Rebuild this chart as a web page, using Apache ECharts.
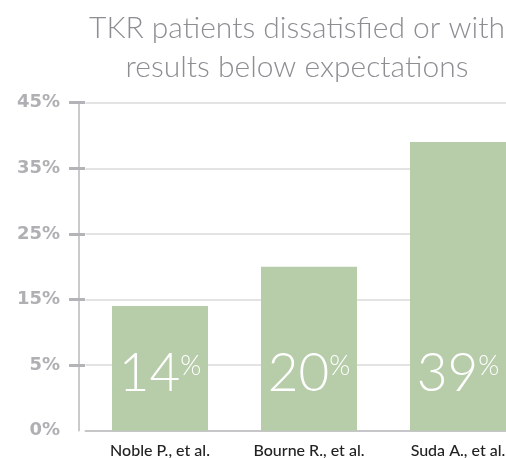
<!DOCTYPE html>
<html>
<head>
<meta charset="utf-8">
<script src="https://cdn.jsdelivr.net/npm/echarts@6/dist/echarts.min.js"></script>
<style>
  html, body { margin: 0; padding: 0; background: #fff; }
  #chart { width: 506px; height: 458px; }
</style>
</head>
<body>
<div id="chart"></div>
<script>
// data
var studies = ["Noble P., et al.", "Bourne R., et al.", "Suda A., et al."];
var dissatisfied = [14, 20, 39];
var tickLabels = ["0%", "5%", "15%", "25%", "35%", "45%"];
// the drawn axis puts its "0%" baseline one half-step below 5%
var baseShift = 5;
var tickAt = [10, 20, 30, 40, 50];

var chart = echarts.init(document.getElementById("chart"));
chart.setOption({
  animation: false,
  title: {
    text: "TKR patients dissatisfied or with\nresults below expectations",
    left: 292,
    top: 4,
    textAlign: "center",
    textStyle: {
      color: "#8d8e92",
      fontFamily: "Lato",
      fontWeight: 300,
      fontSize: 30,
      lineHeight: 39
    }
  },
  grid: {
    left: 85.5,
    right: -26.5,
    top: 102.7,
    bottom: 27.3,
    outerBoundsMode: "none"
  },
  xAxis: {
    type: "category",
    data: studies,
    axisLine: { lineStyle: { color: "#c6c6c8", width: 2 } },
    axisTick: { show: false },
    axisLabel: {
      interval: 0,
      color: "#222",
      fontFamily: "Lato",
      fontSize: 16,
      fontWeight: 500,
      margin: 12
    }
  },
  yAxis: [{
    type: "value",
    min: 0,
    max: 50,
    interval: 10,
    offset: 6.5,
    axisLine: { show: true, lineStyle: { color: "#b9b9bd", width: 1.5 } },
    axisTick: {
      show: true,
      length: 10,
      customValues: tickAt,
      lineStyle: { color: "#b4b4b8", width: 3 }
    },
    splitLine: { lineStyle: { color: "#dadada", width: 1.5 } },
    axisLabel: {
      color: "#b0b0b4",
      fontFamily: "DejaVu Sans",
      fontWeight: "bold",
      fontSize: 18,
      margin: 19,
      formatter: function (v) {
        return tickLabels[v / 10];
      }
    }
  }, {
    // twin axis only for the part of each tick dash right of the axis line
    type: "value",
    position: "left",
    min: 0,
    max: 50,
    interval: 10,
    offset: 6.5,
    axisLine: { show: false },
    axisTick: {
      show: true,
      inside: true,
      length: 6,
      customValues: tickAt,
      lineStyle: { color: "#b4b4b8", width: 3 }
    },
    splitLine: { show: false },
    axisLabel: { show: false }
  }],
  series: [{
    type: "bar",
    barWidth: 96,
    data: dissatisfied.map(function (v) { return v + baseShift; }),
    itemStyle: { color: "#b7cdaa" },
    label: {
      show: true,
      position: "insideBottom",
      distance: 31,
      formatter: function (p) {
        return "{n|" + dissatisfied[p.dataIndex] + "}{p|%}";
      },
      rich: {
        n: {
          color: "#fff",
          fontFamily: "Lato",
          fontWeight: 300,
          fontSize: 53,
          lineHeight: 52
        },
        p: {
          color: "#fff",
          fontFamily: "Lato",
          fontWeight: 300,
          fontSize: 27,
          lineHeight: 52,
          verticalAlign: "top",
          padding: [5, 0, 0, 0]
        }
      }
    }
  }]
});
</script>
</body>
</html>
